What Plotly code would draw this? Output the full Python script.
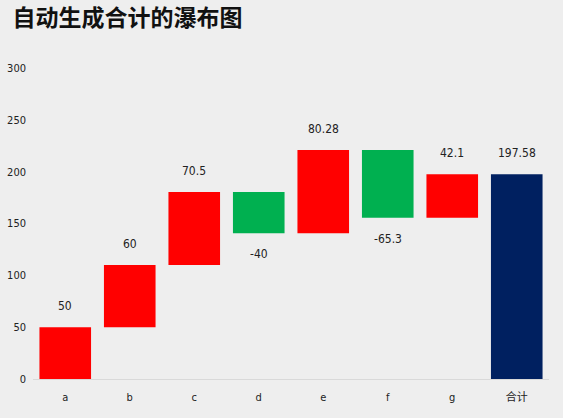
import plotly.graph_objects as go

categories = ["a", "b", "c", "d", "e", "f", "g", "合计"]
values = [50, 60, 70.5, -40, 80.28, -65.3, 42.1, 197.58]
measures = ["relative"] * 7 + ["total"]
labels = ["50", "60", "70.5", "-40", "80.28", "-65.3", "42.1", "197.58"]

FONT = "DejaVu Sans Condensed, DejaVu Sans, Noto Sans CJK SC"

def f(size, color="#222222"):
    return dict(family=FONT, size=size, color=color)

fig = go.Figure(go.Waterfall(
    x=categories, y=values, measure=measures,
    increasing=dict(marker=dict(color="#FF0000")),
    decreasing=dict(marker=dict(color="#00B050")),
    totals=dict(marker=dict(color="#002060")),
    connector=dict(visible=False),
    hoverinfo="x+y",
))

cum = 0
for cat, v, m, t in zip(categories, values, measures, labels):
    if m == "total":
        top = v; pos = True
    else:
        cum += v
        pos = v >= 0
        top = cum
    fig.add_annotation(x=cat, y=top, text=t, showarrow=False,
                       yshift=21 if pos else -21, font=f(12))

fig.update_layout(
    width=563, height=418,
    paper_bgcolor="#EEEEEE", plot_bgcolor="#EEEEEE",
    margin=dict(l=33, r=14, t=68, b=39),
    bargap=0.25,
    showlegend=False,
    title=dict(text="<b>自动生成合计的瀑布图</b>", x=0.022, xanchor="left", y=0.957, yanchor="middle",
               font=dict(family="Noto Sans CJK SC", size=23, color="#111111")),
    font=f(11),
    xaxis=dict(showgrid=False, showline=True, linecolor="#D9D9D9", linewidth=1,
               ticks="", tickfont=f(11), ticklabelstandoff=8, fixedrange=True,
               automargin=False),
    yaxis=dict(range=[0, 300], showgrid=False, zeroline=False, showline=False,
               tickvals=[0, 50, 100, 150, 200, 250, 300], ticks="",
               ticklabelstandoff=6, tickfont=f(11), automargin=False, fixedrange=True),
)

js = ("document.body.style.margin='0';document.body.style.background='#EEEEEE';"
      "var s=document.createElement('style');"
      "s.textContent='.xtick text,.ytick text,.annotation-text{font-stretch:condensed !important;}';"
      "document.head.appendChild(s);")
fig.write_html("out.html", post_script=js, config={"displayModeBar": False})
